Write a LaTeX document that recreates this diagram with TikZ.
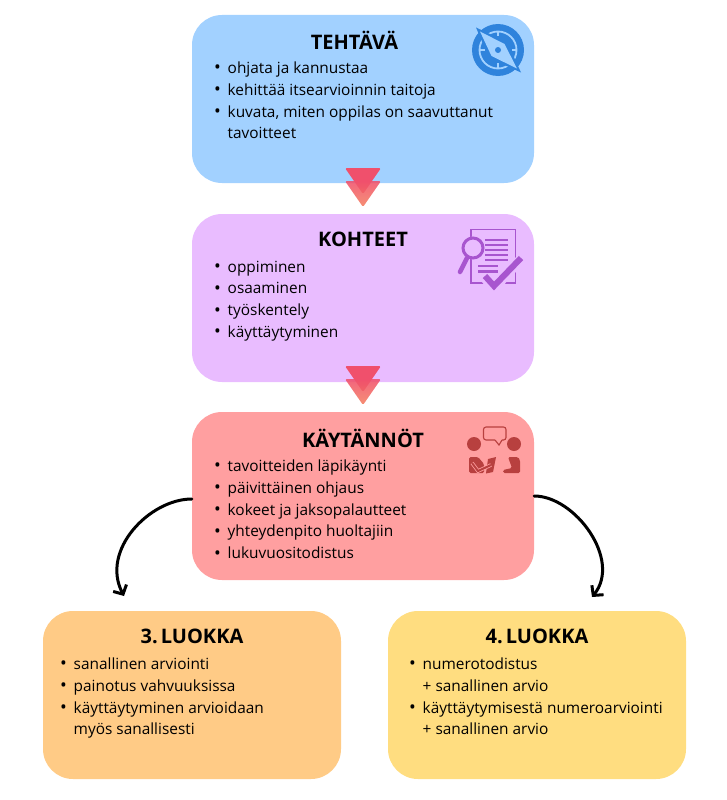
\documentclass[tikz,border=0pt]{standalone}
\usepackage{fontspec}
\setmainfont{Open Sans}
\usetikzlibrary{arrows.meta, positioning}
\usepackage{xcolor}

\definecolor{sininen}{HTML}{A2D1FF}
\definecolor{violetti}{HTML}{E9BCFF}
\definecolor{punainen}{HTML}{FF9FA0}
\definecolor{oranssi}{HTML}{FFCB86}
\definecolor{keltainen}{HTML}{FFDD80}
\definecolor{kompassi}{HTML}{2F83DC}
\definecolor{lila}{HTML}{A855CF}
\definecolor{tiili}{HTML}{B8403F}
\definecolor{kolmioa}{HTML}{F0506C}
\definecolor{kolmiob}{HTML}{F58060}

\newcommand{\kohta}[1]{\makebox[13.5pt][l]{\raisebox{-0.4pt}{\fontsize{18}{18}\selectfont\textbullet}}#1}
\newcommand{\jatko}[1]{\hspace*{13.5pt}#1}

\begin{document}
\begin{tikzpicture}[
    x=1pt, y=-1pt,
    laatikko/.style={rectangle, rounded corners=30pt, minimum height=168pt, inner sep=0pt},
    leveä/.style={laatikko, minimum width=342pt},
    kapea/.style={laatikko, minimum width=298pt},
    otsikko/.style={font=\fontsize{20}{24}\selectfont\bfseries, inner sep=0pt},
    lista/.style={anchor=north west, align=left, inner sep=0pt, font=\fontsize{15.4}{21.8}\selectfont},
    kaari/.style={-{Straight Barb[length=7pt, width=15pt]}, line width=3pt, line cap=round}
]
    \useasboundingbox (0,0) rectangle (726,800);

    % Tehtava
    \node[leveä, fill=sininen] (tehtava) at (363, 99) {};
    \node[otsikko] (tehtavaots) at (354.5, 40) {TEHTÄVÄ};
    \node[lista] (tehtavalista) at (214, 61.5) {\kohta{ohjata ja kannustaa}\\\kohta{kehittää itsearvioinnin taitoja}\\\kohta{kuvata, miten oppilas on saavuttanut}\\\jatko{tavoitteet}};

    % Kohteet
    \node[leveä, fill=violetti] (kohteet) at (363, 298) {};
    \node[otsikko] (kohteetots) at (363, 239) {KOHTEET};
    \node[lista] (kohteetlista) at (214, 260.5) {\kohta{oppiminen}\\\kohta{osaaminen}\\\kohta{työskentely}\\\kohta{käyttäytyminen}};

    % Kaytannot
    \node[leveä, fill=punainen] (kaytannot) at (363, 496) {};
    \node[otsikko] (kaytannotots) at (363, 438) {KÄYTÄNNÖT};
    \node[lista] (kaytannotlista) at (214, 459.5) {\kohta{tavoitteiden läpikäynti}\\\kohta{päivittäinen ohjaus}\\\kohta{kokeet ja jaksopalautteet}\\\kohta{yhteydenpito huoltajiin}\\\kohta{lukuvuositodistus}};

    % Luokat
    \node[kapea, fill=oranssi] (kolmas) at (192, 695) {};
    \node[otsikko] (kolmasots) at (192, 636) {3.\hspace{3pt}LUOKKA};
    \node[lista] (kolmaslista) at (60, 657.5) {\kohta{sanallinen arviointi}\\\kohta{painotus vahvuuksissa}\\\kohta{käyttäytyminen arvioidaan}\\\jatko{myös sanallisesti}};

    \node[kapea, fill=keltainen] (neljas) at (537, 695) {};
    \node[otsikko] (neljasots) at (537, 636) {4.\hspace{3pt}LUOKKA};
    \node[lista] (neljaslista) at (409, 657.5) {\kohta{numerotodistus}\\\jatko{+ sanallinen arvio}\\\kohta{käyttäytymisestä numeroarviointi}\\\jatko{+ sanallinen arvio}};

    % Kolmiot
    \foreach \y in {168, 366} {
        \fill[kolmioa, rounded corners=1.5pt] (345,\y) -- (381,\y) -- (363,\y+26) -- cycle;
        \shade[top color=kolmioa, bottom color=kolmiob, fill opacity=0.88, rounded corners=1.5pt] (345,\y+13) -- (381,\y+13) -- (363,\y+39) -- cycle;
    }

    % Kaaret
    \coordinate (vasenpaa) at (124, 596);
    \coordinate (oikeapaa) at (592, 597);
    \draw[kaari] ([yshift=-3pt]kaytannot.west) .. controls (150,499) and (100,550) .. (vasenpaa);
    \draw[kaari] (kaytannot.east) .. controls (575,496) and (622,560) .. (oikeapaa);

    % Kompassi
    \fill[kompassi] (498,50) circle (26);
    \draw[sininen, line width=1.8pt] (498,50) circle (18.5);
    \foreach \a in {0,90,180,270}
        \draw[sininen, line width=1.4pt] (498,50) ++(\a:18.5) -- ++(\a:-5);
    \fill[kompassi] (476,27.5) -- (507,42) -- (521,72.5) -- (489,58) -- cycle;
    \fill[sininen] (480,31.5) -- (504.5,44) -- (517,68.5) -- (491.5,56) -- cycle;
    \fill[kompassi] (498,50) circle (3);

    % Dokumentti
    \draw[lila, line width=1.6pt] (471,229.5) rectangle (515.5,283);
    \foreach \y in {240,245,250,255,260} \draw[lila, line width=2.6pt] (485,\y) -- (508,\y);
    \foreach \y in {266,271.5} \draw[lila, line width=2.6pt] (478,\y) -- (498,\y);
    \draw[violetti, line width=10pt, line join=round] (485,278) -- (494,288) -- (522,258);
    \draw[lila, line width=6pt] (485,276) -- (494,286) -- (521,258);
    \fill[violetti] (473,248) circle (11.5);
    \draw[lila, line width=3pt] (473,248) circle (10);
    \draw[lila, line width=4.5pt, line cap=round] (467,258) -- (460,272);

    % Keskustelu
    \draw[tiili, line width=1.1pt, rounded corners=2.5pt] (483.5,427) rectangle (506,440);
    \fill[punainen] (495,439) rectangle (502,441.5);
    \draw[tiili, line width=1.1pt] (495,440) -- (499,445) -- (502,440);
    \fill[tiili] (474,444) circle (7);
    \fill[tiili] (514,444) circle (7);
    \fill[tiili, rounded corners=1.5pt] (469,457) -- (478,457) -- (484,464) -- (484,473) -- (469,473) -- cycle;
    \fill[tiili] (488,459) -- (496,457) -- (493,472) -- (486,473.5) -- cycle;
    \draw[punainen, line width=3.6pt] (472,463) -- (478,471) -- (491,465);
    \draw[tiili, line width=2pt] (472,463) -- (478,471) -- (491,465);
    \fill[tiili, rounded corners=1.5pt] (508,457) -- (518,457) -- (520,460) -- (520,473) -- (503,473) -- (503,470) -- (512,468) -- cycle;
\end{tikzpicture}
\end{document}
